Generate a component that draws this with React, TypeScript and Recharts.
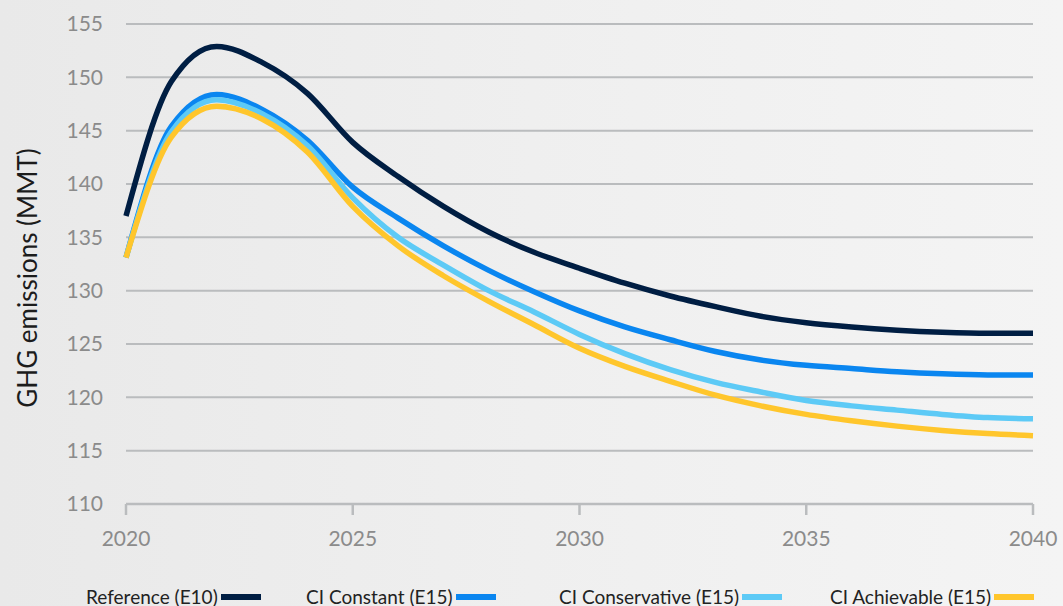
import React from "react";
import {
  CartesianGrid,
  Line,
  LineChart,
  XAxis,
  YAxis,
} from "recharts";

const years = [
  2020, 2021, 2022, 2023, 2024, 2025, 2026, 2027, 2028, 2029, 2030,
  2031, 2032, 2033, 2034, 2035, 2036, 2037, 2038, 2039, 2040,
];

const referenceE10 = [
  137.0, 149.6, 152.9, 151.4, 148.5, 143.9, 140.7, 137.9, 135.5, 133.6, 132.1,
  130.7, 129.5, 128.5, 127.6, 127.0, 126.6, 126.3, 126.1, 126.0, 126.0,
];
const ciConstant = [
  133.1, 145.4, 148.4, 147.0, 144.1, 139.7, 136.8, 134.2, 131.9, 129.9, 128.1,
  126.6, 125.4, 124.3, 123.5, 123.0, 122.7, 122.4, 122.2, 122.1, 122.1,
];
const ciConservative = [
  133.1, 144.9, 147.9, 146.6, 143.6, 138.7, 135.0, 132.4, 130.0, 128.0, 125.9,
  124.1, 122.6, 121.4, 120.5, 119.7, 119.2, 118.8, 118.4, 118.1, 118.0,
];
const ciAchievable = [
  133.1, 144.4, 147.3, 146.1, 143.0, 137.9, 134.2, 131.4, 129.0, 126.8, 124.6,
  122.9, 121.5, 120.2, 119.2, 118.4, 117.8, 117.3, 116.9, 116.6, 116.4,
];

const xTicks = [2020, 2025, 2030, 2035, 2040];
const yTicks = [110, 115, 120, 125, 130, 135, 140, 145, 150, 155];

const series = [
  { key: "ref", name: "Reference (E10)", color: "#001e43", values: referenceE10, left: 86 },
  { key: "constant", name: "CI Constant (E15)", color: "#0a86f0", values: ciConstant, left: 306 },
  { key: "conservative", name: "CI Conservative (E15)", color: "#5dcaf6", values: ciConservative, left: 559 },
  { key: "achievable", name: "CI Achievable (E15)", color: "#ffc62c", values: ciAchievable, left: 830 },
];

const data = years.map((year, i) => {
  const row: Record<string, number> = { year };
  series.forEach((s) => {
    row[s.key] = s.values[i];
  });
  return row;
});

const FONT = "Lato, 'Open Sans', sans-serif";
const GRID = "#babcbe";

export default function App() {
  return (
    <div
      style={{
        position: "absolute",
        left: 0,
        top: 0,
        width: 1063,
        height: 606,
        overflow: "hidden",
        background: "linear-gradient(90deg, #e9e9e9 0%, #efefef 50%, #f4f4f4 100%)",
        fontFamily: FONT,
      }}
    >
      <LineChart
        width={1063}
        height={606}
        data={data}
        margin={{ top: 24, right: 30, left: 0, bottom: 42 }}
      >
        <CartesianGrid vertical={false} stroke={GRID} strokeWidth={2} />
        <XAxis
          dataKey="year"
          type="number"
          domain={[2020, 2040]}
          ticks={xTicks}
          height={60}
          stroke={GRID}
          tick={{ fill: "#8b8b8b", fontSize: 21, fontFamily: FONT }}
          axisLine={{ stroke: GRID, strokeWidth: 2.5 }}
          tickLine={{ stroke: GRID, strokeWidth: 2.5 }}
          tickSize={11}
          tickMargin={16}
        />
        <YAxis
          type="number"
          domain={[110, 155]}
          ticks={yTicks}
          width={126}
          axisLine={false}
          tickLine={false}
          tickSize={0}
          tickMargin={23}
          tick={{ fill: "#8b8b8b", fontSize: 21, fontFamily: FONT }}
        />
        {series.map((s) => (
          <Line
            key={s.key}
            type="monotone"
            dataKey={s.key}
            name={s.name}
            stroke={s.color}
            strokeWidth={5.5}
            dot={false}
            activeDot={false}
            isAnimationActive={false}
          />
        ))}
      </LineChart>
      {/* rotated axis title */}
      <div
        style={{
          position: "absolute",
          left: 27 - 200,
          top: 278 - 16,
          width: 400,
          height: 32,
          lineHeight: "32px",
          textAlign: "center",
          transform: "rotate(-90deg)",
          whiteSpace: "nowrap",
          fontSize: 26,
          color: "#1c1c1c",
        }}
      >
        GHG emissions (MMT)
      </div>
      {series.map((s) => (
        <div
          key={s.key}
          style={{
            position: "absolute",
            left: s.left,
            top: 585,
            display: "flex",
            alignItems: "center",
            fontSize: 19,
            lineHeight: "24px",
            color: "#222",
            whiteSpace: "nowrap",
          }}
        >
          <span>{s.name}</span>
          <span
            style={{
              display: "inline-block",
              width: 40,
              height: 6,
              marginLeft: 3,
              background: s.color,
            }}
          />
        </div>
      ))}
    </div>
  );
}
